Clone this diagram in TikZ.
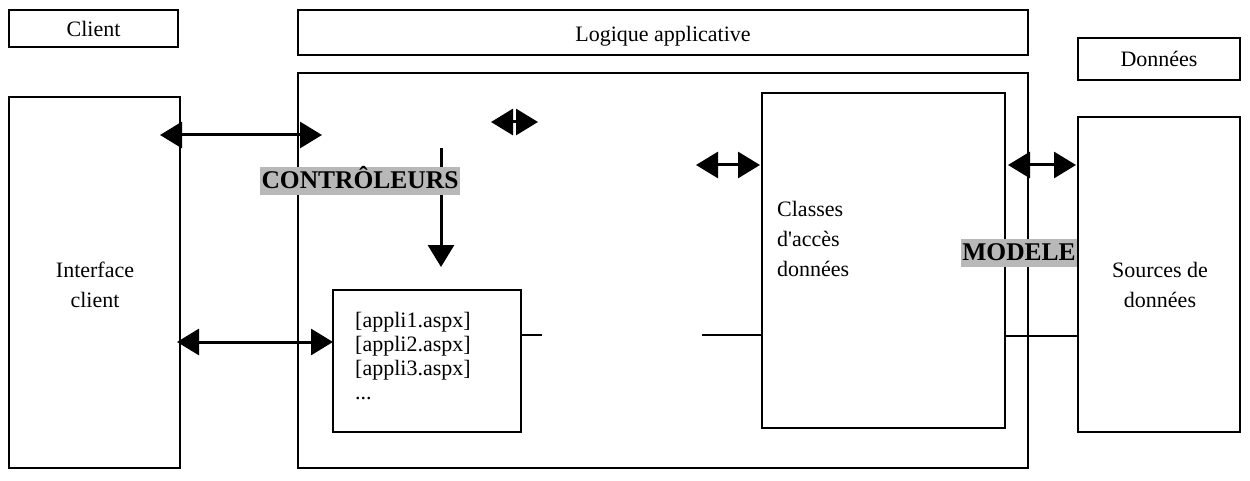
\documentclass[tikz,border=0pt]{standalone}
\usepackage{fontspec}
\setmainfont{Liberation Serif}
\usetikzlibrary{arrows.meta}
\begin{document}
\begin{tikzpicture}[x=1pt,y=-1pt,
  box/.style={draw,line width=2pt},
  lbl/.style={font=\fontsize{22}{30}\selectfont},
  hl/.style={fill=black!28,inner xsep=1.5pt,inner ysep=2pt,text height=19pt,text depth=5pt,font=\fontsize{25.5}{28}\selectfont\bfseries},
  conn/.style={line width=3pt},
  dbl/.style={conn,{Triangle[length=22pt,width=26pt]}-{Triangle[length=22pt,width=26pt]}},
  one/.style={conn,-{Triangle[length=22pt,width=26pt]}},
  thin/.style={line width=1.6pt}]
\useasboundingbox (0,0) rectangle (1250,481);
% header boxes
\node[box,minimum width=169pt,minimum height=37pt,lbl] (client) at (93.5,28.5) {Client};
\node[box,minimum width=730pt,minimum height=45pt,lbl,text height=21pt,text depth=3pt] (logique) at (663,32.5) {Logique applicative};
\node[box,minimum width=162pt,minimum height=42pt,lbl] (donnees) at (1159,59) {Données};
% main boxes
\draw[box] (9,97) rectangle (180,468);
\node[lbl,align=center] (iface) at (95,285) {Interface\\client};
\draw[box] (298,73) rectangle (1028,468);
\draw[box] (762,93) rectangle (1005,428);
\node[lbl,align=left,anchor=north west,inner sep=0pt] (classes) at (777,201) {Classes\\d\textquotesingle accès\\données};
\draw[box] (1078,117) rectangle (1240,432);
\node[lbl,align=center] (sources) at (1160,285) {Sources de\\données};
\node[box,minimum width=188pt,minimum height=142pt] (appli) at (427,361) {};
\node[align=left,anchor=north west,inner sep=0pt,font=\fontsize{22}{24}\selectfont] (applitxt) at (355,312) {[appli1.aspx]\\{}[appli2.aspx]\\{}[appli3.aspx]\\...};
% arrows
\coordinate (a1l) at (160,135); \coordinate (a1r) at (322,135);
\draw[dbl] (a1l) -- (a1r);
\coordinate (d1) at (441,148); \coordinate (d2) at (441,267);
\draw[one] (d1) -- (d2);
\coordinate (dm) at (514.5,122); \coordinate (dml) at (491,122); \coordinate (dmr) at (538,122);
\draw[one] (dm) -- (dml);
\draw[one] (dm) -- (dmr);
\coordinate (a2l) at (696,165); \coordinate (a2r) at (760,165);
\draw[dbl] (a2l) -- (a2r);
\coordinate (a3l) at (1008,165); \coordinate (a3r) at (1076,165);
\draw[dbl] (a3l) -- (a3r);
\coordinate (a4l) at (177,342); \coordinate (a4r) at (333,342);
\draw[dbl] (a4l) -- (a4r);
% plain lines
\coordinate (l1b) at (542,335);
\draw[thin] (appli.east |- l1b) -- (l1b);
\coordinate (l2a) at (702,335); \coordinate (l2b) at (762,335);
\draw[thin] (l2a) -- (l2b);
\coordinate (l3a) at (1005,336); \coordinate (l3b) at (1078,336);
\draw[thin] (l3a) -- (l3b);
% labels
\node[hl] (ctrl) at (360,181.5) {CONTRÔLEURS};
\node[hl] (model) at (1019,253) {MODELE};
\end{tikzpicture}
\end{document}
